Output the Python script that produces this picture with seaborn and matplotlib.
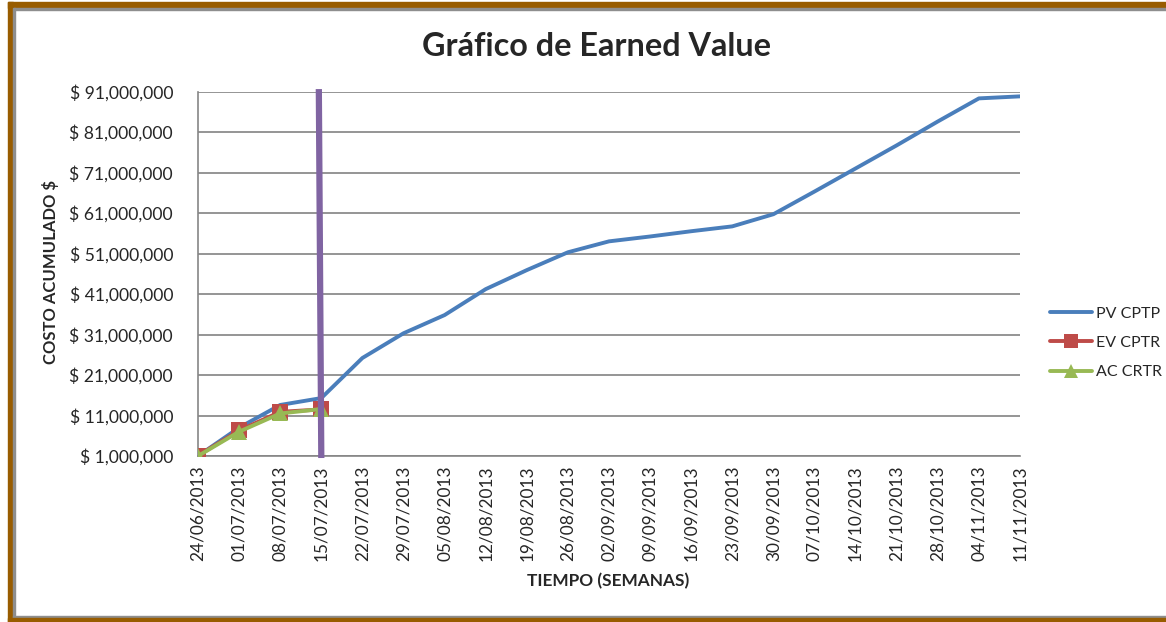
import matplotlib
matplotlib.use("Agg")
import matplotlib.pyplot as plt
from matplotlib.patches import Rectangle
from matplotlib.ticker import FuncFormatter
from matplotlib.lines import Line2D
import numpy as np
import pandas as pd
import seaborn as sns

# Weekly cut-off dates
semanas = ["24/06/2013", "01/07/2013", "08/07/2013", "15/07/2013", "22/07/2013",
           "29/07/2013", "05/08/2013", "12/08/2013", "19/08/2013", "26/08/2013",
           "02/09/2013", "09/09/2013", "16/09/2013", "23/09/2013", "30/09/2013",
           "07/10/2013", "14/10/2013", "21/10/2013", "28/10/2013", "04/11/2013",
           "11/11/2013"]

# Cumulative cost (pesos)
pv_cptp = [1.0e6, 8.0e6, 13.6e6, 15.3e6, 25.2e6, 31.3e6, 35.8e6, 42.2e6, 46.9e6,
           51.3e6, 54.0e6, 55.2e6, 56.5e6, 57.7e6, 60.7e6, 66.3e6, 72.0e6, 77.7e6,
           83.6e6, 89.3e6, 89.8e6]
ev_cptr = [1.1e6, 7.3e6, 11.9e6, 12.5e6]
ac_crtr = [1.0e6, 7.0e6, 11.5e6, 12.6e6]

# Status date of the report
fecha_corte = "15/07/2013"

series = ["PV CPTP", "EV CPTR", "AC CRTR"]
colores = {"PV CPTP": "#4A7EBB", "EV CPTR": "#BE4B48", "AC CRTR": "#98B954"}
marcadores = {"PV CPTP": None, "EV CPTR": "s", "AC CRTR": "^"}

frames = []
for nombre, valores in zip(series, [pv_cptp, ev_cptr, ac_crtr]):
    frames.append(pd.DataFrame({"semana": np.arange(len(valores)),
                                "costo": valores, "serie": nombre}))
datos = pd.concat(frames, ignore_index=True)

sns.set_style("white")
plt.rcParams["font.family"] = ["Lato", "DejaVu Sans"]

W, H = 1166, 622
fig = plt.figure(figsize=(W / 100, H / 100), dpi=100)
ax = fig.add_axes([198 / W, 1 - 456 / H, (1020 - 198) / W, (456 - 91.5) / H])

for nombre in series:
    sub = datos[datos["serie"] == nombre]
    sns.lineplot(data=sub, x="semana", y="costo", ax=ax, color=colores[nombre],
                 linewidth=2.8, marker=marcadores[nombre], markersize=11,
                 markeredgewidth=0, label=nombre, legend=False, zorder=3)

# Status-date marker line
i_corte = semanas.index(fecha_corte)
ax.plot([i_corte - 0.06, i_corte], [91.6e6, 0.5e6], color="#8064A2",
        linewidth=4.5, clip_on=False, zorder=4, solid_capstyle="butt")

ax.set_xlim(0, len(semanas) - 1)
ax.set_ylim(1e6, 91e6)
ax.set_yticks(np.arange(1e6, 92e6, 10e6))
ax.yaxis.set_major_formatter(FuncFormatter(lambda v, p: "$ {:,.0f}".format(v)))
ax.set_xticks(np.arange(len(semanas)))
ax.set_xticklabels(semanas, rotation=90, fontsize=12.4)
ax.tick_params(axis="y", labelsize=12.6, length=6, color="#868686", pad=12)
ax.tick_params(axis="x", length=6, color="#868686", pad=1)

ax.grid(axis="y", color="#8C8C8C", linewidth=1.3)
ax.set_axisbelow(True)
for s in ["top", "right"]:
    ax.spines[s].set_visible(False)
for s in ["left", "bottom"]:
    ax.spines[s].set_color("#868686")
    ax.spines[s].set_linewidth(1.2)

ax.set_xlabel("TIEMPO (SEMANAS)", fontsize=12.4, fontweight="bold", va="center")
ax.xaxis.set_label_coords((608 - 198) / 822, (456 - 581) / 364.5)
ax.set_ylabel("COSTO ACUMULADO $", fontsize=12, fontweight="bold", va="center")
ax.yaxis.set_label_coords((50 - 198) / 822, 0.505)

fig.text(597 / W, 1 - 47 / H, "Gráfico de Earned Value", ha="center", va="center",
         fontsize=23.3, fontweight="bold")

handles = [Line2D([], [], color=colores[n], linewidth=2.8, marker=marcadores[n],
                  markersize=10, markeredgewidth=0) for n in series]
fig.legend(handles, series, loc="center left", bbox_to_anchor=(1036 / W, 1 - 343 / H),
           frameon=False, fontsize=11.5, handlelength=2.6, handletextpad=0.25,
           labelspacing=0.95)

# Frame around the chart
brown = "#985C00"
gray = "#8E8E8E"
for (x0, y0, w, h, c) in [(8, 2, W - 8, 6, brown), (13, 8, W - 13, 2, gray),
                          (8, 2, 5, H - 2, brown), (13, 8, 2, 610, gray),
                          (13, 616, W - 13, 2, gray), (8, 618, W - 8, 4, brown)]:
    fig.patches.append(Rectangle((x0 / W, 1 - (y0 + h) / H), w / W, h / H,
                                 transform=fig.transFigure, color=c, zorder=10))

fig.savefig("out.png", dpi=100)
